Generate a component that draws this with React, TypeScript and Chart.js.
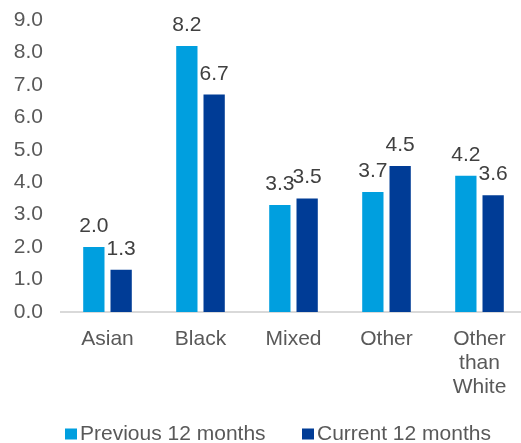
import { useEffect, useRef } from "react";
import { Chart, registerables } from "chart.js";

Chart.register(...registerables);

// Rates by ethnic group, previous vs current 12 months
const categories: (string | string[])[] = ["Asian", "Black", "Mixed", "Other", ["Other", "than", "White"]];
const previous12 = [2.0, 8.2, 3.3, 3.7, 4.2];
const current12 = [1.3, 6.7, 3.5, 4.5, 3.6];
const seriesNames = ["Previous 12 months", "Current 12 months"];
const seriesColors = ["#009FDF", "#003C96"];
const yMin = 0;
const yMax = 9;
const yStep = 1;

const FONT = "'Liberation Sans', Arial, sans-serif";
const AXIS_TEXT = "#595959";
const LABEL_TEXT = "#404040";

// Value printed above every bar
const valueLabels = {
  id: "valueLabels",
  afterDatasetsDraw(chart: any) {
    const ctx = chart.ctx;
    ctx.save();
    ctx.font = `21px ${FONT}`;
    ctx.fillStyle = LABEL_TEXT;
    ctx.textAlign = "center";
    ctx.textBaseline = "alphabetic";
    chart.data.datasets.forEach((ds: any, i: number) => {
      const meta = chart.getDatasetMeta(i);
      meta.data.forEach((bar: any, j: number) => {
        const v = ds.data[j] as number;
        ctx.fillText(v.toFixed(1), bar.x, bar.y - 15);
      });
    });
    ctx.restore();
  },
};

// Compact legend with small square swatches along the bottom
const bottomLegend = {
  id: "bottomLegend",
  afterDraw(chart: any) {
    const ctx = chart.ctx;
    const starts = [65, 302];
    const y = 434;
    ctx.save();
    ctx.font = `21px ${FONT}`;
    ctx.textAlign = "left";
    ctx.textBaseline = "middle";
    chart.data.datasets.forEach((ds: any, i: number) => {
      const x = starts[i];
      ctx.fillStyle = ds.backgroundColor;
      ctx.fillRect(x, y - 5.5, 12, 11);
      ctx.fillStyle = AXIS_TEXT;
      ctx.fillText(ds.label, x + 15, y);
    });
    ctx.restore();
  },
};

export default function App() {
  const canvasRef = useRef<HTMLCanvasElement | null>(null);

  useEffect(() => {
    const canvas = canvasRef.current;
    if (!canvas) return;
    const chart = new Chart(canvas, {
      type: "bar",
      data: {
        labels: categories as any,
        datasets: [
          { label: seriesNames[0], data: previous12, backgroundColor: seriesColors[0] },
          { label: seriesNames[1], data: current12, backgroundColor: seriesColors[1] },
        ],
      },
      options: {
        responsive: false,
        animation: false,
        layout: { padding: { top: 20, left: 0, right: 0, bottom: 0 } },
        datasets: { bar: { categoryPercentage: 0.587, barPercentage: 0.78 } },
        plugins: {
          legend: { display: false },
          tooltip: { enabled: false },
        },
        scales: {
          x: {
            grid: { display: false, drawTicks: false, tickLength: 0 },
            border: { display: true, color: "#D9D9D9", width: 2 },
            ticks: {
              color: AXIS_TEXT,
              font: { family: FONT, size: 21, lineHeight: 1.15 },
              padding: 15,
              maxRotation: 0,
              autoSkip: false,
            },
            afterFit: (s: any) => {
              s.height = 131;
              s.paddingLeft = 0;
              s.paddingRight = 0;
            },
          },
          y: {
            min: yMin,
            max: yMax,
            grid: { display: false, drawTicks: false, tickLength: 0 },
            border: { display: false },
            ticks: {
              stepSize: yStep,
              color: AXIS_TEXT,
              font: { family: FONT, size: 21 },
              padding: 18,
              callback: (v: any) => Number(v).toFixed(1),
            },
            afterFit: (s: any) => {
              s.width = 61;
              s.paddingTop = 0;
              s.paddingBottom = 0;
            },
          },
        },
      },
      plugins: [valueLabels, bottomLegend],
    });
    return () => chart.destroy();
  }, []);

  return (
    <div style={{ position: "fixed", left: 0, top: 0, width: 521, height: 443, overflow: "hidden", background: "#fff" }}>
      <canvas ref={canvasRef} width={526} height={443} style={{ display: "block" }} />
    </div>
  );
}
